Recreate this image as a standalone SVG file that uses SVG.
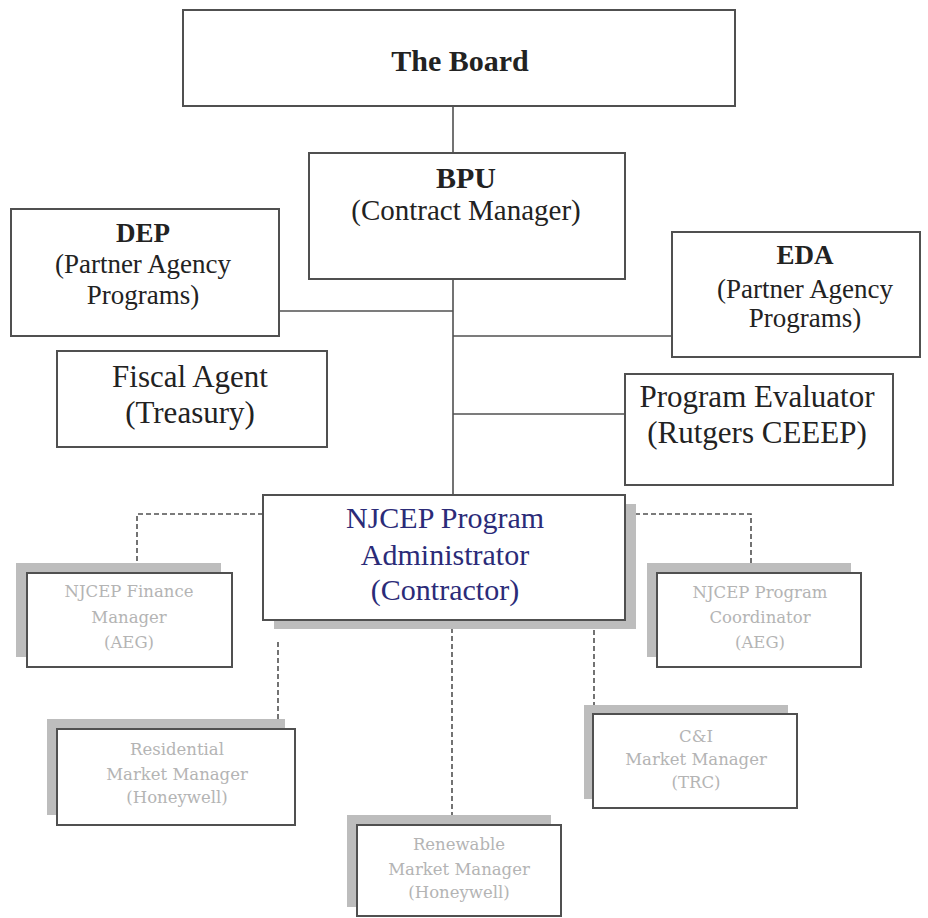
<svg xmlns="http://www.w3.org/2000/svg" width="928" height="918" viewBox="0 0 928 918">
<style>
.box{fill:#fff;stroke:#505050;stroke-width:2}
.shadow{fill:#bdbdbd;stroke:none}
.conn{stroke:#505050;stroke-width:1.6;fill:none}
.dash{stroke:#505050;stroke-width:1.6;fill:none;stroke-dasharray:5,3}
.big{font-family:"Liberation Serif","Times New Roman",serif;fill:#222;text-anchor:middle}
.b{font-weight:bold}
.nj{font-family:"Liberation Serif","Times New Roman",serif;fill:#2b2b78;text-anchor:middle;font-size:30px}
.sm{font-family:"DejaVu Serif","Liberation Serif",serif;fill:#b4b4b4;text-anchor:middle;font-size:16.5px}
</style>
<rect width="928" height="918" fill="#fff"/>
<g id="connectors">
<line class="conn" x1="453" y1="106" x2="453" y2="153"/>
<line class="conn" x1="453" y1="279" x2="453" y2="495"/>
<line class="conn" x1="279" y1="311" x2="453" y2="311"/>
<line class="conn" x1="453" y1="336" x2="672" y2="336"/>
<line class="conn" x1="453" y1="414" x2="625" y2="414"/>
<polyline class="dash" points="263,514 137,514 137,563"/>
<polyline class="dash" points="635,514 751,514 751,563"/>
<line class="dash" x1="278" y1="642" x2="278" y2="720"/>
<line class="dash" x1="452" y1="628" x2="452" y2="815"/>
<line class="dash" x1="594" y1="622" x2="594" y2="705"/>
</g>
<g id="board">
<rect class="box" x="183" y="10" width="552" height="96"/>
<text class="big b" x="460" y="71" font-size="30">The Board</text>
</g>
<g id="bpu">
<rect class="box" x="309" y="153" width="316" height="126"/>
<text class="big b" x="466" y="188" font-size="30">BPU</text>
<text class="big" x="466" y="220" font-size="29">(Contract Manager)</text>
</g>
<g id="dep">
<rect class="box" x="11" y="209" width="268" height="127"/>
<text class="big b" x="143" y="242" font-size="27">DEP</text>
<text class="big" x="143" y="273" font-size="27">(Partner Agency</text>
<text class="big" x="143" y="304" font-size="27">Programs)</text>
</g>
<g id="eda">
<rect class="box" x="672" y="232" width="248" height="125"/>
<text class="big b" x="805" y="264" font-size="27">EDA</text>
<text class="big" x="805" y="298" font-size="27">(Partner Agency</text>
<text class="big" x="805" y="327" font-size="27">Programs)</text>
</g>
<g id="fiscal">
<rect class="box" x="57" y="351" width="270" height="96"/>
<text class="big" x="190" y="387" font-size="31">Fiscal Agent</text>
<text class="big" x="190" y="423" font-size="31">(Treasury)</text>
</g>
<g id="evaluator">
<rect class="box" x="625" y="374" width="268" height="111"/>
<text class="big" x="757" y="407" font-size="31">Program Evaluator</text>
<text class="big" x="757" y="443" font-size="31">(Rutgers CEEEP)</text>
</g>
<g id="njcep">
<rect class="shadow" x="274" y="504" width="362" height="125"/>
<rect class="box" x="263" y="495" width="362" height="125"/>
<text class="nj" x="445" y="528">NJCEP Program</text>
<text class="nj" x="445" y="565">Administrator</text>
<text class="nj" x="445" y="600">(Contractor)</text>
</g>
<g id="finance">
<rect class="shadow" x="16" y="563" width="205" height="94"/>
<rect class="box" x="27" y="573" width="205" height="94"/>
<text class="sm" x="129" y="597">NJCEP Finance</text>
<text class="sm" x="129" y="623">Manager</text>
<text class="sm" x="129" y="648">(AEG)</text>
</g>
<g id="coordinator">
<rect class="shadow" x="647" y="563" width="204" height="94"/>
<rect class="box" x="657" y="573" width="204" height="94"/>
<text class="sm" x="760" y="598">NJCEP Program</text>
<text class="sm" x="760" y="623">Coordinator</text>
<text class="sm" x="760" y="648">(AEG)</text>
</g>
<g id="residential">
<rect class="shadow" x="47" y="719" width="238" height="96"/>
<rect class="box" x="57" y="729" width="238" height="96"/>
<text class="sm" x="177" y="755">Residential</text>
<text class="sm" x="177" y="780">Market Manager</text>
<text class="sm" x="177" y="803">(Honeywell)</text>
</g>
<g id="ci">
<rect class="shadow" x="584" y="705" width="204" height="94"/>
<rect class="box" x="593" y="714" width="204" height="94"/>
<text class="sm" x="696" y="742">C&amp;I</text>
<text class="sm" x="696" y="765">Market Manager</text>
<text class="sm" x="696" y="788">(TRC)</text>
</g>
<g id="renewable">
<rect class="shadow" x="347" y="815" width="204" height="92"/>
<rect class="box" x="357" y="825" width="204" height="91"/>
<text class="sm" x="459" y="850">Renewable</text>
<text class="sm" x="459" y="875">Market Manager</text>
<text class="sm" x="459" y="898">(Honeywell)</text>
</g>
</svg>
